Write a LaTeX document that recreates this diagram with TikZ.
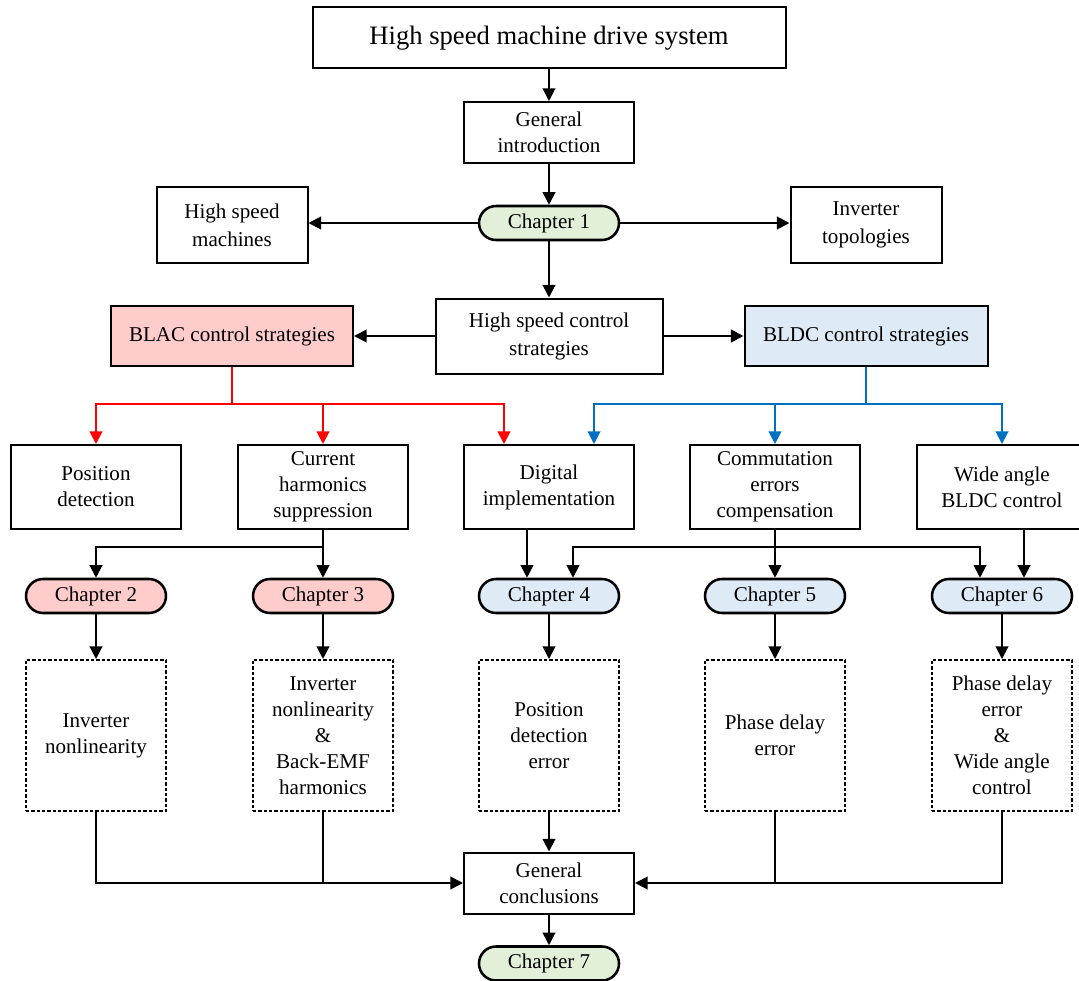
\documentclass[tikz,border=0pt]{standalone}
\usepackage{fontspec}
\setmainfont{Liberation Serif}
\usetikzlibrary{arrows.meta}

\definecolor{pinkfill}{RGB}{255,204,204}
\definecolor{bluefill}{RGB}{222,235,247}
\definecolor{greenfill}{RGB}{226,240,217}
\definecolor{redline}{RGB}{255,0,0}
\definecolor{blueline}{RGB}{0,112,192}

\newcommand{\boxfont}{\fontsize{15.8pt}{19.5pt}\selectfont}
\newcommand{\wideboxfont}{\fontsize{15.8pt}{21pt}\selectfont}
\newcommand{\titlefont}{\fontsize{19.95pt}{24pt}\selectfont}

\tikzset{
  sz/.style 2 args={minimum width=#1*0.75pt, minimum height=#2*0.75pt},
  plainbox/.style={draw, line width=1.5pt, inner sep=0pt, align=center, font=\boxfont},
  dotbox/.style={draw, line width=1.5pt, dash pattern=on 2.4pt off 1.6pt,
                 inner sep=0pt, align=center, font=\boxfont},
  pill/.style={draw, line width=1.9pt, rounded corners=12.75pt, inner sep=0pt,
               align=center, font=\boxfont, sz={140}{34}},
  link/.style={line width=1.5pt},
  arr/.style={line width=1.5pt, -{Triangle[length=9.5pt,width=9.5pt]}},
}

\begin{document}
\begin{tikzpicture}[x=0.75pt,y=-0.75pt]
\useasboundingbox (0,0) rectangle (1079,981);

% top of the chart
\node[plainbox, sz={473}{61}, font=\titlefont] (title) at (549,38) {High speed machine drive system};
\node[plainbox, sz={170}{61}] (intro) at (549,132.5) {General\\introduction};
\node[pill, fill=greenfill] (ch1) at (549,223) {Chapter 1};
\node[plainbox, sz={151}{76}, font=\wideboxfont] (hsm) at (232,225) {High speed\\machines};
\node[plainbox, sz={151}{76}, font=\wideboxfont] (inv) at (866,225) {Inverter\\topologies};
\node[plainbox, sz={227}{75}, font=\wideboxfont] (hscs) at (549,336) {High speed control\\strategies};
\node[plainbox, sz={242}{60}, fill=pinkfill] (blac) at (232,336) {BLAC control strategies};
\node[plainbox, sz={243}{60}, fill=bluefill] (bldc) at (866,336) {BLDC control strategies};

% topics
\node[plainbox, sz={170}{84}] (pd)   at (96,487)   {Position\\detection};
\node[plainbox, sz={170}{84}] (chs)  at (323,487)  {Current\\harmonics\\suppression};
\node[plainbox, sz={170}{84}] (dig)  at (549,487)  {Digital\\implementation};
\node[plainbox, sz={170}{84}] (com)  at (775,487)  {Commutation\\errors\\compensation};
\node[plainbox, sz={170}{84}] (wide) at (1002,487) {Wide angle\\BLDC control};

% chapters
\node[pill, fill=pinkfill] (ch2) at (96,596)   {Chapter 2};
\node[pill, fill=pinkfill] (ch3) at (323,596)  {Chapter 3};
\node[pill, fill=bluefill] (ch4) at (549,596)  {Chapter 4};
\node[pill, fill=bluefill] (ch5) at (775,596)  {Chapter 5};
\node[pill, fill=bluefill] (ch6) at (1002,596) {Chapter 6};

% chapter contents
\node[dotbox, sz={140}{151}] (d2) at (96,735.5)   {Inverter\\nonlinearity};
\node[dotbox, sz={140}{151}] (d3) at (323,735.5)  {Inverter\\nonlinearity\\\&\\Back-EMF\\harmonics};
\node[dotbox, sz={140}{151}] (d4) at (549,735.5)  {Position\\detection\\error};
\node[dotbox, sz={140}{151}] (d5) at (775,735.5)  {Phase delay\\error};
\node[dotbox, sz={140}{151}] (d6) at (1002,735.5) {Phase delay\\error\\\&\\Wide angle\\control};

% conclusions
\node[plainbox, sz={170}{61}] (gc) at (549,883) {General\\conclusions};
\node[pill, fill=greenfill] (ch7) at (549,963.5) {Chapter 7};

% bus levels
\coordinate (cbus) at (0,404);
\coordinate (kbus) at (0,547);

% connectors, top part
\draw[arr] (title) -- (intro);
\draw[arr] (intro) -- (ch1);
\draw[arr] (ch1.west) -- (ch1.west -| hsm.east);
\draw[arr] (ch1.east) -- (ch1.east -| inv.west);
\draw[arr] (ch1) -- (hscs);
\draw[arr] (hscs.west) -- (hscs.west -| blac.east);
\draw[arr] (hscs.east) -- (hscs.east -| bldc.west);

% BLAC branches
\draw[link, redline] (blac.south) -- (blac.south |- cbus);
\draw[arr, redline] (blac.south |- cbus) -| (pd.north);
\draw[arr, redline] (blac.south |- cbus) -| (chs.north);
\draw[arr, redline] (blac.south |- cbus) -| ([xshift=-33.75pt]dig.north);

% BLDC branches
\draw[link, blueline] (bldc.south) -- (bldc.south |- cbus);
\draw[arr, blueline] (bldc.south |- cbus) -| ([xshift=33.75pt]dig.north);
\draw[arr, blueline] (bldc.south |- cbus) -| (com.north);
\draw[arr, blueline] (bldc.south |- cbus) -| (wide.north);

% topics to chapters
\draw[arr] (chs) -- (ch3);
\draw[arr] (chs.south |- kbus) -| (ch2.north);
\draw[arr] ([xshift=-16.5pt]dig.south) -- ([xshift=-16.5pt]ch4.north);
\draw[arr] (com) -- (ch5);
\draw[arr] (com.south |- kbus) -| ([xshift=18pt]ch4.north);
\draw[arr] (com.south |- kbus) -| ([xshift=-16.5pt]ch6.north);
\draw[arr] ([xshift=16.5pt]wide.south) -- ([xshift=16.5pt]ch6.north);

% chapters to contents
\draw[arr] (ch2) -- (d2);
\draw[arr] (ch3) -- (d3);
\draw[arr] (ch4) -- (d4);
\draw[arr] (ch5) -- (d5);
\draw[arr] (ch6) -- (d6);

% contents to conclusions
\draw[arr] (d2.south) |- (gc.west);
\draw[link] (d3.south) -- (d3.south |- gc.west);
\draw[arr] (d4) -- (gc);
\draw[arr] (d6.south) |- (gc.east);
\draw[link] (d5.south) -- (d5.south |- gc.east);
\draw[arr] (gc) -- (ch7);
\end{tikzpicture}
\end{document}
